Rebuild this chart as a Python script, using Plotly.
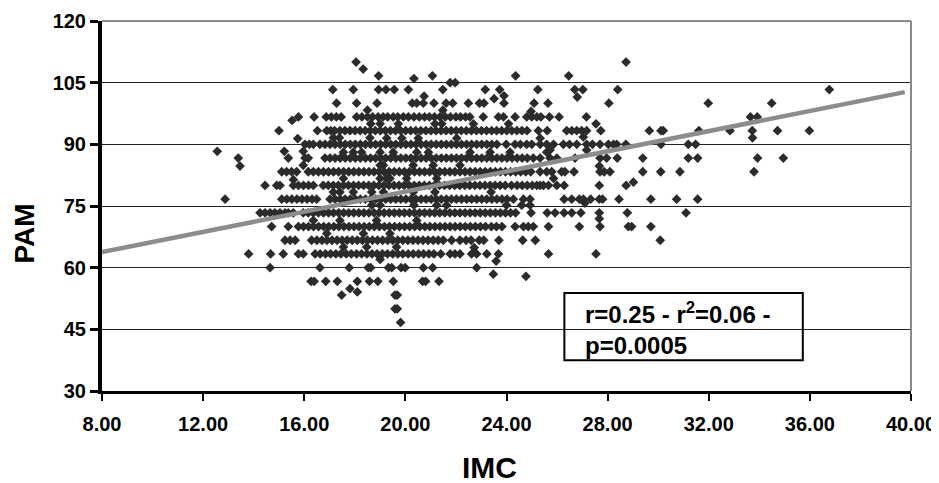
import plotly.graph_objects as go

# IMC values, one list per PAM level (PAM values fall on 1/3 mmHg steps)
imc_at_046 = [19.81]
imc_at_050 = [19.59, 19.68]
imc_at_053 = [17.48, 19.59, 19.68]
imc_at_056 = [16.27, 16.39, 16.85, 17.31, 18.10, 18.58, 18.91, 19.52, 20.68, 20.80, 21.33]
imc_at_060 = [14.65, 16.62, 17.78, 18.53, 18.63, 19.33, 19.46, 19.83, 19.99, 20.71, 21.08, 22.82]
imc_at_063 = [13.8, 14.67, 15.17, 15.77, 15.96, 16.43, 16.63, 16.84, 17.04, 17.25, 17.45, 17.66, 17.86,
              18.07, 18.27, 18.48, 18.68, 18.88, 19.09, 19.29, 19.5, 19.7, 19.9, 20.11, 20.31, 20.52,
              20.72, 20.93, 21.13, 21.4, 21.77, 21.96, 22.16, 22.62, 22.82, 23.22, 23.68, 25.66, 27.54]
imc_at_066 = [15.24, 15.44, 15.64, 16.29, 16.5, 16.7, 16.9, 17.1, 17.3, 17.5, 17.7, 17.9, 18.1, 18.3,
              18.5, 18.7, 18.9, 19.1, 19.3, 19.5, 19.7, 19.9, 20.1, 20.3, 20.5, 20.7, 20.9, 21.1, 21.3,
              21.5, 21.83, 22.16, 22.4, 22.6, 22.92, 23.1, 23.7, 24.64, 25.14, 30.08]
imc_at_070 = [14.71, 15.37, 15.77, 15.97, 16.17, 16.37, 16.57, 16.77, 16.97, 17.17, 17.37, 17.57, 17.77,
              17.97, 18.17, 18.37, 18.57, 18.77, 18.97, 19.17, 19.37, 19.57, 19.77, 19.97, 20.17, 20.37,
              20.57, 20.77, 20.97, 21.17, 21.37, 21.57, 21.77, 21.97, 22.17, 22.37, 22.57, 22.77, 22.97,
              23.17, 23.4, 23.6, 23.82, 24.34, 24.67, 24.86, 25.06, 25.66, 26.88, 27.7, 28.82, 28.95, 29.71]
imc_at_073 = [14.25, 14.45, 14.65, 14.84, 15.04, 15.24, 15.37, 15.57, 15.96, 16.16, 16.36, 16.56, 16.76,
              16.96, 17.16, 17.36, 17.56, 17.76, 17.96, 18.16, 18.36, 18.56, 18.76, 18.96, 19.16, 19.36,
              19.56, 19.76, 19.96, 20.16, 20.36, 20.56, 20.76, 20.96, 21.16, 21.36, 21.56, 21.76, 21.96,
              22.16, 22.36, 22.56, 22.76, 22.96, 23.16, 23.36, 23.56, 23.76, 23.96, 24.16, 24.36, 24.97,
              25.61, 25.92, 26.28, 26.58, 26.94, 27.67, 28.78, 31.1]
imc_at_076 = [12.87, 15.11, 15.31, 15.51, 15.71, 15.91, 16.11, 16.31, 16.49, 17.02, 17.22, 17.42, 17.62,
              17.82, 18.02, 18.22, 18.42, 18.62, 18.82, 19.02, 19.22, 19.42, 19.62, 19.82, 20.02, 20.22,
              20.42, 20.62, 20.82, 21.02, 21.22, 21.42, 21.62, 21.82, 22.02, 22.22, 22.42, 22.62, 22.82,
              23.02, 23.22, 23.42, 23.62, 23.82, 24.02, 24.27, 24.67, 24.93, 26.28, 26.58, 26.88, 27.04,
              27.33, 27.67, 27.8, 28.45, 29.71, 30.73, 31.56]
imc_at_080 = [14.45, 14.91, 15.04, 15.57, 15.77, 15.97, 16.17, 16.36, 16.75, 16.95, 17.15, 17.35, 17.55,
              17.75, 17.95, 18.15, 18.35, 18.55, 18.75, 18.95, 19.15, 19.35, 19.55, 19.75, 19.95, 20.15,
              20.35, 20.55, 20.75, 20.95, 21.15, 21.35, 21.55, 21.75, 21.95, 22.15, 22.35, 22.55, 22.75,
              22.95, 23.15, 23.35, 23.55, 23.75, 23.95, 24.2, 24.42, 24.62, 24.82, 25.02, 25.2, 25.33,
              25.46, 25.66, 25.99, 26.28, 27.67, 28.73]
imc_at_083 = [15.11, 15.3, 15.5, 15.7, 16.16, 16.36, 16.56, 16.76, 16.96, 17.16, 17.36, 17.56, 17.76,
              17.96, 18.16, 18.36, 18.56, 18.76, 18.96, 19.16, 19.36, 19.56, 19.76, 19.96, 20.16, 20.36,
              20.56, 20.76, 20.96, 21.16, 21.36, 21.56, 21.76, 21.96, 22.16, 22.36, 22.56, 22.76, 22.96,
              23.16, 23.36, 23.56, 23.76, 23.96, 24.16, 24.36, 24.56, 24.76, 24.96, 25.33, 25.59, 25.79,
              26.18, 26.31, 26.67, 27.7, 27.86, 28.09, 29.39, 30.1, 30.86, 33.79]
imc_at_086 = [13.39, 15.37, 16.03, 16.16, 16.82, 17.02, 17.22, 17.42, 17.62, 17.82, 18.02, 18.22, 18.42,
              18.62, 18.82, 19.02, 19.22, 19.42, 19.62, 19.82, 20.02, 20.22, 20.42, 20.62, 20.82, 21.02,
              21.22, 21.42, 21.62, 21.82, 22.02, 22.22, 22.42, 22.62, 22.82, 23.02, 23.22, 23.42, 23.62,
              23.82, 24.02, 24.22, 24.42, 24.62, 24.82, 25.06, 25.33, 25.72, 25.99, 26.71, 27.7, 27.96,
              28.38, 29.39, 31.19, 31.56, 33.93, 34.95]
imc_at_090 = [16.03, 16.2, 16.36, 16.62, 16.82, 17.02, 17.22, 17.42, 17.62, 17.82, 18.02, 18.22, 18.42,
              18.62, 18.82, 19.02, 19.22, 19.42, 19.62, 19.82, 20.02, 20.22, 20.42, 20.62, 20.82, 21.02,
              21.22, 21.42, 21.62, 21.82, 22.02, 22.22, 22.42, 22.62, 22.82, 23.02, 23.22, 23.42, 23.62,
              23.99, 24.34, 24.55, 24.8, 25.0, 25.33, 25.59, 25.86, 26.25, 26.49, 26.78, 27.17, 27.4,
              27.7, 28.03, 28.23, 28.36, 28.72, 30.11, 31.19, 31.48]
imc_at_093 = [15.0, 16.52, 16.89, 17.05, 17.2, 17.41, 17.61, 17.81, 18.01, 18.21, 18.41, 18.61, 18.81,
              19.01, 19.21, 19.41, 19.61, 19.81, 20.01, 20.21, 20.41, 20.61, 20.81, 21.01, 21.21, 21.41,
              21.61, 21.81, 22.01, 22.21, 22.41, 22.61, 22.81, 23.01, 23.21, 23.41, 23.61, 23.81, 24.01,
              24.21, 24.41, 24.61, 24.81, 25.26, 25.61, 26.38, 26.58, 26.78, 26.97, 27.17, 27.73, 29.65,
              30.11, 30.2, 31.61, 32.84, 33.72, 34.72, 35.98]
imc_at_096 = [15.77, 16.39, 16.87, 17.07, 17.27, 17.46, 18.07, 18.28, 18.5, 18.7, 18.92, 19.12, 19.3,
              19.52, 19.7, 19.92, 20.12, 20.34, 20.55, 20.76, 20.95, 21.15, 21.37, 21.58, 21.78, 22.0,
              22.18, 22.38, 22.55, 23.08, 23.68, 23.88, 24.34, 24.8, 25.0, 25.2, 25.36, 25.7, 26.08,
              27.16, 33.65, 33.92]
imc_at_100 = [17.28, 18.07, 18.88, 20.27, 20.45, 20.71, 21.13, 21.61, 21.87, 22.49, 22.93, 23.11, 23.9,
              25.09, 25.64, 28.05, 31.98, 34.49]
imc_at_103 = [17.13, 17.94, 18.94, 19.23, 19.56, 20.12, 21.48, 23.16, 23.73, 25.24, 26.7, 27.02, 28.4, 36.77]
imc_at_106 = [18.94, 21.07, 24.36, 26.46]
imc_at_110 = [18.05, 28.73]

pam_levels = [46.67, 50.0, 53.33, 56.67, 60.0, 63.33, 66.67, 70.0, 73.33, 76.67, 80.0, 83.33,
              86.67, 90.0, 93.33, 96.67, 100.0, 103.33, 106.67, 110.0]
imc_rows = [imc_at_046, imc_at_050, imc_at_053, imc_at_056, imc_at_060, imc_at_063, imc_at_066,
            imc_at_070, imc_at_073, imc_at_076, imc_at_080, imc_at_083, imc_at_086, imc_at_090,
            imc_at_093, imc_at_096, imc_at_100, imc_at_103, imc_at_106, imc_at_110]

# points that sit between the regular levels
imc_between = [18.33, 20.34, 21.77, 21.97, 20.74, 23.51, 23.9, 26.8, 21.48, 18.5, 24.97, 15.52, 18.63,
               19.0, 19.72, 21.17, 21.44, 22.69, 24.08, 27.54, 17.15, 17.39, 18.6, 19.26, 19.86, 20.51,
               22.03, 25.33, 27.04, 33.73, 15.74, 12.56, 15.21, 15.96, 17.55, 17.94, 18.27, 19.0, 19.52,
               20.45, 20.91, 22.56, 23.35, 24.14, 25.59, 25.72, 27.17, 13.46, 15.96, 19.0, 19.13, 20.31,
               21.1, 22.16, 27.67, 15.57, 17.55, 19.0, 19.25, 19.39, 20.05, 21.24, 25.86, 29.02, 17.15,
               17.41, 17.94, 18.67, 19.13, 20.31, 21.17, 23.39, 18.67, 19.0, 20.34, 21.24, 21.63, 24.0,
               24.6, 24.93, 27.1, 16.36, 17.41, 18.86, 20.45, 27.67, 16.89, 18.34, 19.39, 17.55, 18.47,
               19.65, 22.72, 19.0, 23.59, 23.48, 24.77, 17.81, 18.1]
pam_between = [108.3, 106.0, 105.0, 105.0, 101.7, 101.1, 101.8, 101.5, 98.3, 98.3, 98.0, 95.8, 95.0,
               95.0, 95.0, 95.0, 95.0, 95.0, 95.0, 95.0, 91.6, 91.6, 91.6, 91.5, 91.5, 91.5,
               91.5, 91.5, 91.8, 91.6, 91.4, 88.3, 88.3, 88.3, 88.1, 88.1, 88.1, 88.1, 88.1,
               88.1, 88.1, 88.1, 88.1, 88.1, 88.1, 88.6, 88.6, 84.7, 84.9, 84.9, 84.9, 84.9,
               84.9, 84.9, 84.7, 81.4, 81.7, 81.7, 81.7, 81.7, 81.7, 81.7, 81.7, 80.8, 78.4,
               78.4, 78.4, 78.4, 78.4, 78.4, 78.4, 78.4, 75.2, 75.2, 75.2, 75.2, 75.2, 75.2,
               75.2, 75.2, 75.7, 71.5, 71.5, 71.5, 71.5, 71.9, 68.3, 68.3, 68.3, 65.0, 65.0,
               65.0, 64.9, 62.0, 61.6, 58.4, 57.9, 54.9, 54.1]

# regression line end points
fit_imc = [8.0, 39.75]
fit_pam = [63.8, 102.7]

imc = []
pam = []
for level, row in zip(pam_levels, imc_rows):
    imc += row
    pam += [level] * len(row)
imc += imc_between
pam += pam_between

FONT = "Liberation Sans, Arial, sans-serif"

fig = go.Figure()
fig.add_trace(go.Scatter(x=imc, y=pam, mode="markers",
                         marker=dict(symbol="diamond", size=7.5, color="#2b2b2b")))
fig.add_trace(go.Scatter(x=fit_imc, y=fit_pam, mode="lines",
                         line=dict(color="#8c8c8c", width=4.5)))

# the page body adds an 8px offset, so the figure is 8px smaller than the window
fig.update_layout(
    width=931, height=475,
    margin=dict(l=94, r=28, t=13, b=92, autoexpand=False),
    plot_bgcolor="white", paper_bgcolor="white",
    showlegend=False,
    font=dict(family=FONT, color="black"),
)
fig.update_xaxes(range=[8, 40], tick0=8, dtick=4, tickformat=".2f",
                 ticks="outside", ticklen=7, tickwidth=2, tickcolor="black",
                 showline=True, linewidth=3, linecolor="black",
                 showgrid=False, zeroline=False, ticklabelstandoff=6,
                 tickfont=dict(size=20, weight="bold"))
fig.update_yaxes(range=[30, 120], tick0=30, dtick=15,
                 ticks="outside", ticklen=8, tickwidth=3, tickcolor="black",
                 showline=True, linewidth=4, linecolor="black",
                 showgrid=True, gridcolor="#222222", gridwidth=1, zeroline=False,
                 tickfont=dict(size=20, weight="bold"))

# grey frame on the top and right
fig.add_shape(type="line", xref="paper", yref="paper", x0=0, x1=1, y0=1, y1=1,
              line=dict(color="#8a8a8a", width=2))
fig.add_shape(type="line", xref="paper", yref="paper", x0=1, x1=1, y0=0, y1=1,
              line=dict(color="#8a8a8a", width=2))

# statistics box
fig.add_shape(type="rect", x0=26.29, x1=35.72, y0=37.46, y1=53.84,
              line=dict(color="black", width=2), fillcolor="rgba(0,0,0,0)")
fig.add_annotation(x=27.03, y=48.9, text="r=0.25 - r<sup>2</sup>=0.06 -", showarrow=False,
                   xanchor="left", yanchor="middle", font=dict(size=24, weight="bold"))
fig.add_annotation(x=27.03, y=41.1, text="p=0.0005", showarrow=False,
                   xanchor="left", yanchor="middle", font=dict(size=24, weight="bold"))

# axis titles
fig.add_annotation(xref="paper", yref="paper", x=0.4796, y=-0.208, text="IMC", showarrow=False,
                   xanchor="center", yanchor="middle", font=dict(size=30, weight="bold"))
fig.add_annotation(xref="paper", yref="paper", x=-0.097, y=0.4243, text="PAM", showarrow=False,
                   textangle=-90, xanchor="center", yanchor="middle", font=dict(size=28, weight="bold"))

fig.write_html("out.html")
